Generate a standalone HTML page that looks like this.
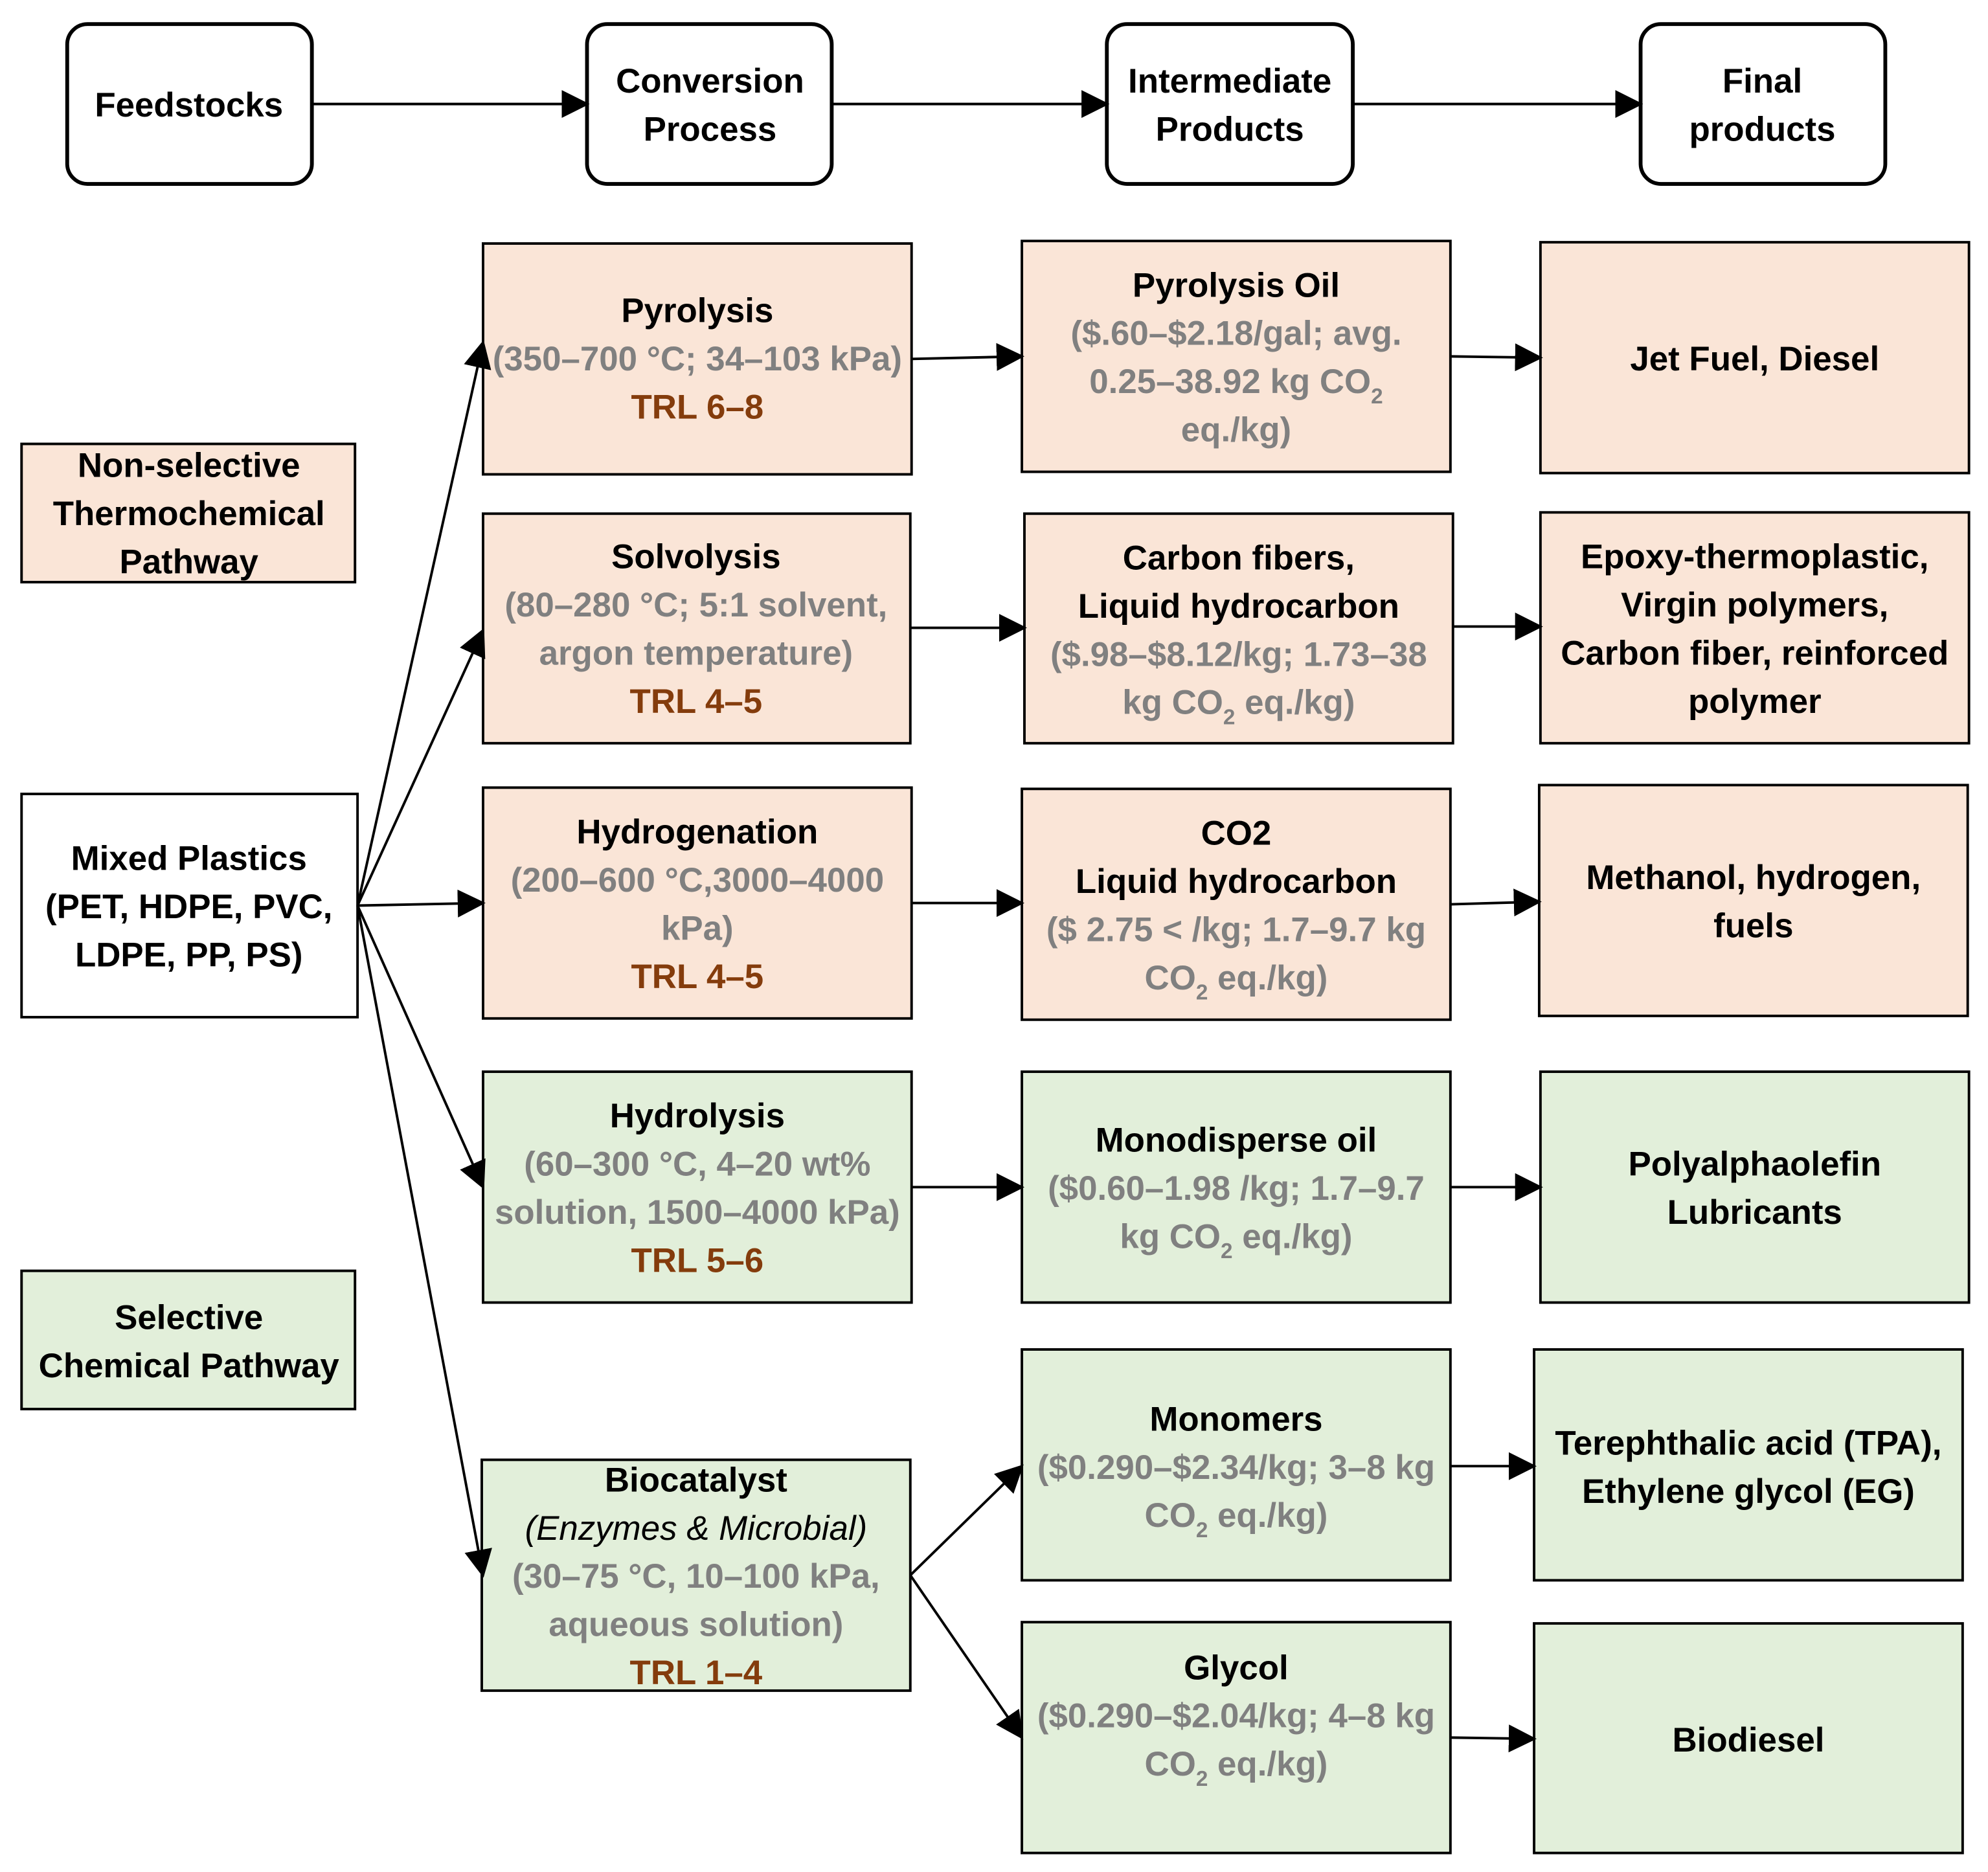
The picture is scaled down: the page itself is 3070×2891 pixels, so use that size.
<!DOCTYPE html>
<html><head><meta charset="utf-8"><style>
html,body{margin:0;padding:0;background:#fff;}
svg{display:block;}
text{font-family:"Liberation Sans",sans-serif;font-weight:bold;font-size:27px;text-anchor:middle;letter-spacing:0px;}
.g{fill:#808080;}
.b{fill:#843C0C;}
.k{fill:#000;}
.p{fill:#FAE5D7;stroke:#000;stroke-width:2;}
.n{fill:#E2EFDA;stroke:#000;stroke-width:2;}
.w{fill:#fff;stroke:#000;stroke-width:2;}
.h{fill:#fff;stroke:#000;stroke-width:3;}
line{stroke:#000;stroke-width:2;}
</style></head><body>
<svg width="3070" height="2891" viewBox="0 0 1568 1476" preserveAspectRatio="none" xmlns="http://www.w3.org/2000/svg">
<defs>
<marker id="m" markerWidth="22" markerHeight="22" refX="20" refY="11" orient="auto" markerUnits="userSpaceOnUse"><path d="M0,0 L22,11 L0,22 z" fill="#000"/></marker></defs>

<!-- header -->
<rect class="h" x="53" y="19" width="193" height="126" rx="16"/>
<rect class="h" x="463" y="19" width="193" height="126" rx="16"/>
<rect class="h" x="873" y="19" width="194" height="126" rx="16"/>
<rect class="h" x="1294" y="19" width="193" height="126" rx="16"/>
<text x="149" y="92">Feedstocks</text>
<text x="560" y="73">Conversion</text><text x="560" y="111">Process</text>
<text x="970" y="73">Intermediate</text><text x="970" y="111">Products</text>
<text x="1390" y="73">Final</text><text x="1390" y="111">products</text>
<line x1="246" y1="82" x2="463" y2="82" marker-end="url(#m)"/>
<line x1="656" y1="82" x2="873" y2="82" marker-end="url(#m)"/>
<line x1="1067" y1="82" x2="1294" y2="82" marker-end="url(#m)"/>

<!-- left -->
<rect class="p" x="17" y="350" width="263" height="109"/>
<text x="149" y="376">Non-selective</text><text x="149" y="414">Thermochemical</text><text x="149" y="452">Pathway</text>
<rect class="w" x="17" y="626" width="265" height="176"/>
<text x="149" y="686">Mixed Plastics</text><text x="149" y="724">(PET, HDPE, PVC,</text><text x="149" y="762">LDPE, PP, PS)</text>
<rect class="n" x="17" y="1002" width="263" height="109"/>
<text x="149" y="1048">Selective</text><text x="149" y="1086">Chemical Pathway</text>

<!-- col2 -->
<rect class="p" x="381" y="192" width="338" height="182"/>
<text x="550" y="254">Pyrolysis</text><text class="g" x="550" y="292">(350–700 °C; 34–103 kPa)</text><text class="b" x="550" y="330">TRL 6–8</text>
<rect class="p" x="381" y="405" width="337" height="181"/>
<text x="549" y="448">Solvolysis</text><text class="g" x="549" y="486">(80–280 °C; 5:1 solvent,</text><text class="g" x="549" y="524">argon temperature)</text><text class="b" x="549" y="562">TRL 4–5</text>
<rect class="p" x="381" y="621" width="338" height="182"/>
<text x="550" y="665">Hydrogenation</text><text class="g" x="550" y="703">(200–600 °C,3000–4000</text><text class="g" x="550" y="741">kPa)</text><text class="b" x="550" y="779">TRL 4–5</text>
<rect class="n" x="381" y="845" width="338" height="182"/>
<text x="550" y="889">Hydrolysis</text><text class="g" x="550" y="927">(60–300 °C, 4–20 wt%</text><text class="g" x="550" y="965">solution, 1500–4000 kPa)</text><text class="b" x="550" y="1003">TRL 5–6</text>
<rect class="n" x="380" y="1151" width="338" height="182"/>
<text x="549" y="1176">Biocatalyst</text><text x="549" y="1214" style="font-weight:normal;font-style:italic">(Enzymes &amp; Microbial)</text><text class="g" x="549" y="1252">(30–75 °C, 10–100 kPa,</text><text class="g" x="549" y="1290">aqueous solution)</text><text class="b" x="549" y="1328">TRL 1–4</text>

<!-- col3 -->
<rect class="p" x="806" y="190" width="338" height="182"/>
<text x="975" y="234">Pyrolysis Oil</text><text class="g" x="975" y="272">($.60–$2.18/gal; avg.</text><text class="g" x="975" y="310">0.25–38.92 kg CO<tspan font-size="17" dy="8">2</tspan></text><text class="g" x="975" y="348">eq./kg)</text>
<rect class="p" x="808" y="405" width="338" height="181"/>
<text x="977" y="449">Carbon fibers,</text><text x="977" y="487">Liquid hydrocarbon</text><text class="g" x="977" y="525">($.98–$8.12/kg; 1.73–38</text><text class="g" x="977" y="563">kg CO<tspan font-size="17" dy="8">2</tspan><tspan dy="-8"> eq./kg)</tspan></text>
<rect class="p" x="806" y="622" width="338" height="182"/>
<text x="975" y="666">CO2</text><text x="975" y="704">Liquid hydrocarbon</text><text class="g" x="975" y="742">($ 2.75 &lt; /kg; 1.7–9.7 kg</text><text class="g" x="975" y="780">CO<tspan font-size="17" dy="8">2</tspan><tspan dy="-8"> eq./kg)</tspan></text>
<rect class="n" x="806" y="845" width="338" height="182"/>
<text x="975" y="908">Monodisperse oil</text><text class="g" x="975" y="946">($0.60–1.98 /kg; 1.7–9.7</text><text class="g" x="975" y="984">kg CO<tspan font-size="17" dy="8">2</tspan><tspan dy="-8"> eq./kg)</tspan></text>
<rect class="n" x="806" y="1064" width="338" height="182"/>
<text x="975" y="1128">Monomers</text><text class="g" x="975" y="1166">($0.290–$2.34/kg; 3–8 kg</text><text class="g" x="975" y="1204">CO<tspan font-size="17" dy="8">2</tspan><tspan dy="-8"> eq./kg)</tspan></text>
<rect class="n" x="806" y="1279" width="338" height="182"/>
<text x="975" y="1324">Glycol</text><text class="g" x="975" y="1362">($0.290–$2.04/kg; 4–8 kg</text><text class="g" x="975" y="1400">CO<tspan font-size="17" dy="8">2</tspan><tspan dy="-8"> eq./kg)</tspan></text>

<!-- col4 -->
<rect class="p" x="1215" y="191" width="338" height="182"/>
<text x="1384" y="292">Jet Fuel, Diesel</text>
<rect class="p" x="1215" y="404" width="338" height="182"/>
<text x="1384" y="448">Epoxy-thermoplastic,</text><text x="1384" y="486">Virgin polymers,</text><text x="1384" y="524">Carbon fiber, reinforced</text><text x="1384" y="562">polymer</text>
<rect class="p" x="1214" y="619" width="338" height="182"/>
<text x="1383" y="701">Methanol, hydrogen,</text><text x="1383" y="739">fuels</text>
<rect class="n" x="1215" y="845" width="338" height="182"/>
<text x="1384" y="927">Polyalphaolefin</text><text x="1384" y="965">Lubricants</text>
<rect class="n" x="1210" y="1064" width="338" height="182"/>
<text x="1379" y="1147">Terephthalic acid (TPA),</text><text x="1379" y="1185">Ethylene glycol (EG)</text>
<rect class="n" x="1210" y="1280" width="338" height="181"/>
<text x="1379" y="1381">Biodiesel</text>

<!-- connectors -->
<line x1="282" y1="714" x2="381" y2="270" marker-end="url(#m)"/>
<line x1="282" y1="714" x2="381" y2="497" marker-end="url(#m)"/>
<line x1="282" y1="714" x2="381" y2="712" marker-end="url(#m)"/>
<line x1="282" y1="714" x2="381" y2="936" marker-end="url(#m)"/>
<line x1="282" y1="714" x2="381" y2="1242" marker-end="url(#m)"/>
<line x1="719" y1="283" x2="806" y2="281" marker-end="url(#m)"/>
<line x1="718" y1="495" x2="808" y2="495" marker-end="url(#m)"/>
<line x1="719" y1="712" x2="806" y2="712" marker-end="url(#m)"/>
<line x1="719" y1="936" x2="806" y2="936" marker-end="url(#m)"/>
<line x1="718" y1="1242" x2="806" y2="1156" marker-end="url(#m)"/>
<line x1="718" y1="1242" x2="806" y2="1370" marker-end="url(#m)"/>
<line x1="1144" y1="281" x2="1215" y2="282" marker-end="url(#m)"/>
<line x1="1146" y1="494" x2="1215" y2="494" marker-end="url(#m)"/>
<line x1="1144" y1="713" x2="1214" y2="711" marker-end="url(#m)"/>
<line x1="1144" y1="936" x2="1215" y2="936" marker-end="url(#m)"/>
<line x1="1144" y1="1156" x2="1210" y2="1156" marker-end="url(#m)"/>
<line x1="1144" y1="1370" x2="1210" y2="1371" marker-end="url(#m)"/>
</svg>
</body></html>
